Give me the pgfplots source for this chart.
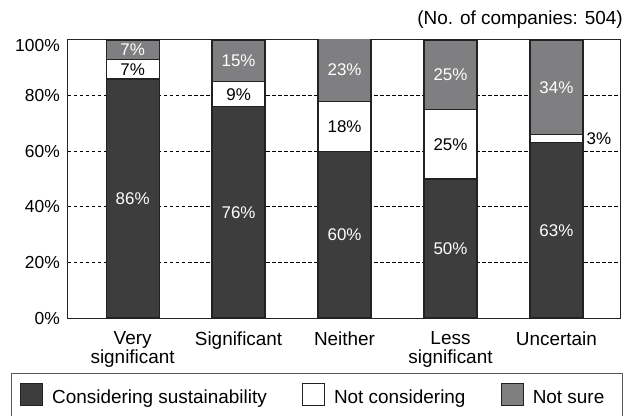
\documentclass[border=0pt]{standalone}
\usepackage{pgfplots}
\pgfplotsset{compat=1.18}
\usepackage{pgfplotstable}
\usepackage{fontspec}
\setmainfont{Liberation Sans}

\definecolor{darkfill}{HTML}{3D3D3D}
\definecolor{grayfill}{HTML}{7F7F81}
\definecolor{edge}{HTML}{222222}

% share of companies (%) per perceived significance
\pgfplotstableread{
x cons notc unsure
0 86 7 7
1 76 9 15
2 60 18 23
3 50 25 25
4 63 3 34
}\shares

\pgfplotsset{
  frame/.style={
    scale only axis, width=552bp, height=278bp,
    xmin=-0.61, xmax=4.6, ymin=0, ymax=100,
  },
  sq legend/.style={legend image code/.code={%
    \draw[##1, draw=edge, line width=1.2bp] (0bp,-2.7bp) rectangle (22bp,19.3bp);}},
}

\begin{document}
\begin{tikzpicture}
\begin{axis}[frame, name=ax,
  ybar stacked, bar width=53bp,
  axis line style={draw=black!85, line width=1bp},
  major tick length=0pt,
  ytick={0,20,40,60,80}, yticklabels={0\%,20\%,40\%,60\%,80\%},
  extra y ticks={100}, extra y tick labels={100\%},
  extra y tick style={grid=none, yticklabel style={yshift=-5bp}},
  ymajorgrids,
  major grid style={draw=black, line width=0.6bp, dash pattern=on 3.5bp off 2.5bp},
  xtick={0,1,2,3,4},
  xticklabels={{Very\\significant},Significant,Neither,{Less\\significant},Uncertain},
  xticklabel style={align=center, font=\fontsize{19}{18.6}\selectfont, inner sep=0pt, yshift=-13.5bp},
  yticklabel style={font=\fontsize{17.5}{20}\selectfont, inner sep=0pt, xshift=-8bp},
  legend columns=3,
  legend style={at={(rel axis cs:1,0)}, anchor=north east, xshift=2.7bp, yshift=-54.7bp,
    draw=black!65, line width=0.8bp, font=\fontsize{19}{22}\selectfont,
    inner xsep=9bp, inner ysep=10bp, cells={anchor=base west}, nodes={inner sep=0pt},
    /tikz/every odd column/.append style={column sep=9bp},
    /tikz/every even column/.append style={column sep=35bp}},
]
\addplot[fill=darkfill, draw=edge, line width=1.2bp, sq legend] table[x=x, y=cons]{\shares};
\addplot[fill=white, draw=edge, line width=1.2bp, sq legend] table[x=x, y=notc]{\shares};
\addplot[fill=grayfill, draw=edge, line width=1.2bp, sq legend] table[x=x, y=unsure]{\shares};
\legend{Considering sustainability, Not considering, Not sure\hspace*{9bp}}
\end{axis}

% value labels at the middle of each segment
\begin{axis}[frame, hide axis, clip=false,
  /pgf/number format/assume math mode=true,
  point meta=explicit,
  nodes near coords={\pgfmathprintnumber{\pgfplotspointmeta}\%},
  every node near coord/.append style={anchor=center, font=\fontsize{17}{20}\selectfont, inner sep=0pt},
]
\addplot[draw=none, mark=none, every node near coord/.append style={text=white}]
  table[x=x, y expr=\thisrow{cons}/2, meta=cons]{\shares};
\addplot[draw=none, mark=none, skip coords between index={4}{5},
  every node near coord/.append style={text=black}]
  table[x=x, y expr=\thisrow{cons}+\thisrow{notc}/2, meta=notc]{\shares};
\addplot[draw=none, mark=none, skip coords between index={0}{4},
  every node near coord/.append style={text=black, anchor=west, xshift=3.5bp}]
  table[x expr=\thisrow{x}+0.25, y expr=\thisrow{cons}+\thisrow{notc}/2, meta=notc]{\shares};
\addplot[draw=none, mark=none, every node near coord/.append style={text=white}]
  table[x=x, y expr=\thisrow{cons}+\thisrow{notc}+\thisrow{unsure}/2, meta=unsure]{\shares};
\end{axis}

\node[anchor=base east, font=\fontsize{19}{22}\selectfont, inner sep=0pt]
  at ([xshift=3bp, yshift=15bp]ax.north east) {(No. of companies: 504)};

\pgfresetboundingbox
\path ([xshift=-68bp, yshift=-98bp]ax.south west) rectangle ([xshift=16bp, yshift=40bp]ax.north east);
\end{tikzpicture}
\end{document}
